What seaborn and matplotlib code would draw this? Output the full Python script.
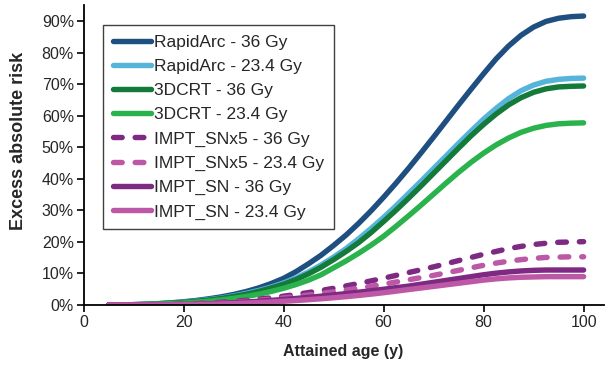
import matplotlib
matplotlib.use("Agg")
import matplotlib.pyplot as plt
import seaborn as sns
import pandas as pd
from matplotlib.ticker import PercentFormatter

sns.set_theme(style="white")
plt.rcParams["font.family"] = ["Liberation Sans", "DejaVu Sans"]

# attained age (years), every 2.5 y
age = [5, 7.5, 10, 12.5, 15, 17.5, 20, 22.5, 25, 27.5, 30, 32.5, 35, 37.5, 40, 42.5, 45, 47.5, 50,
       52.5, 55, 57.5, 60, 62.5, 65, 67.5, 70, 72.5, 75, 77.5, 80, 82.5, 85, 87.5, 90, 92.5, 95, 97.5, 100]

# excess absolute risk
rapidarc_36 = [0.0, 0.0004, 0.0012, 0.0025, 0.0044, 0.0069, 0.0102, 0.0143, 0.0195, 0.0257, 0.0334,
               0.0427, 0.0541, 0.068, 0.0846, 0.106, 0.131, 0.158, 0.189, 0.222, 0.259, 0.299, 0.342,
               0.387, 0.434, 0.483, 0.533, 0.584, 0.635, 0.685, 0.734, 0.781, 0.822, 0.856, 0.882,
               0.9, 0.91, 0.915, 0.917]
rapidarc_234 = [0.0, 0.0003, 0.001, 0.0022, 0.004, 0.0063, 0.009, 0.0125, 0.017, 0.022, 0.029, 0.037,
                0.046, 0.057, 0.07, 0.086, 0.105, 0.127, 0.152, 0.179, 0.21, 0.243, 0.278, 0.315,
                0.354, 0.393, 0.433, 0.473, 0.513, 0.552, 0.59, 0.624, 0.655, 0.68, 0.698, 0.71,
                0.716, 0.719, 0.72]
crt_36 = [0.0, 0.0003, 0.001, 0.002, 0.0037, 0.0058, 0.0083, 0.0115, 0.0157, 0.0205, 0.027, 0.034,
          0.043, 0.054, 0.066, 0.081, 0.099, 0.12, 0.144, 0.17, 0.198, 0.23, 0.265, 0.301, 0.339,
          0.378, 0.418, 0.458, 0.498, 0.537, 0.573, 0.606, 0.635, 0.658, 0.675, 0.686, 0.692,
          0.694, 0.695]
crt_234 = [0.0, 0.0002, 0.0007, 0.0015, 0.0027, 0.0043, 0.0063, 0.0088, 0.012, 0.016, 0.021, 0.027,
           0.034, 0.043, 0.053, 0.065, 0.079, 0.096, 0.118, 0.14, 0.164, 0.19, 0.218, 0.25, 0.283,
           0.317, 0.352, 0.387, 0.421, 0.453, 0.482, 0.508, 0.53, 0.548, 0.561, 0.57, 0.575,
           0.577, 0.578]
snx5_36 = [0.0, 0.0001, 0.0002, 0.0004, 0.0008, 0.0015, 0.0026, 0.0041, 0.006, 0.0084, 0.0113,
           0.0147, 0.0186, 0.023, 0.028, 0.0335, 0.0395, 0.046, 0.053, 0.0605, 0.0683, 0.0765,
           0.085, 0.094, 0.103, 0.112, 0.121, 0.131, 0.141, 0.151, 0.161, 0.17, 0.179, 0.186,
           0.192, 0.196, 0.199, 0.2, 0.201]
snx5_234 = [0.0, 0.0, 0.0001, 0.0003, 0.0007, 0.0012, 0.002, 0.0031, 0.0046, 0.0065, 0.0089, 0.0117,
            0.0149, 0.0185, 0.0225, 0.0268, 0.0315, 0.0365, 0.0418, 0.0474, 0.0533, 0.0595, 0.066,
            0.073, 0.08, 0.087, 0.094, 0.102, 0.11, 0.118, 0.126, 0.133, 0.139, 0.144, 0.148,
            0.151, 0.152, 0.153, 0.153]
sn_36 = [0.0, 0.0, 0.0001, 0.0003, 0.0005, 0.0009, 0.0015, 0.0024, 0.0036, 0.0052, 0.0071, 0.0093,
         0.0118, 0.0146, 0.0176, 0.0208, 0.0243, 0.028, 0.032, 0.0362, 0.0406, 0.0452, 0.05, 0.055,
         0.06, 0.066, 0.072, 0.078, 0.084, 0.09, 0.096, 0.101, 0.105, 0.108, 0.11, 0.111, 0.111,
         0.111, 0.111]
sn_234 = [0.0, 0.0, 0.0001, 0.0001, 0.0003, 0.0005, 0.0009, 0.0015, 0.0023, 0.0033, 0.0045, 0.006,
          0.0077, 0.0096, 0.0118, 0.0142, 0.0169, 0.0198, 0.023, 0.0265, 0.0303, 0.0345, 0.039,
          0.044, 0.049, 0.054, 0.059, 0.064, 0.069, 0.074, 0.079, 0.083, 0.086, 0.088, 0.089,
          0.09, 0.09, 0.09, 0.09]

labels = ["RapidArc - 36 Gy", "RapidArc - 23.4 Gy", "3DCRT - 36 Gy", "3DCRT - 23.4 Gy",
          "IMPT_SNx5 - 36 Gy", "IMPT_SNx5 - 23.4 Gy", "IMPT_SN - 36 Gy", "IMPT_SN - 23.4 Gy"]
series = [rapidarc_36, rapidarc_234, crt_36, crt_234, snx5_36, snx5_234, sn_36, sn_234]
colors = ["#1F4E80", "#56B4DA", "#137A3A", "#2AB24C", "#7E2A82", "#BC58A6", "#7E2A82", "#BC58A6"]
dashed = [False, False, False, False, True, True, False, False]

df = pd.DataFrame({"Age": age})
for lab, vals in zip(labels, series):
    df[lab] = vals

fig = plt.figure(figsize=(6.05, 3.68), dpi=100)
ax = fig.add_axes([0.1382, 0.1712, 0.8595, 0.8152])

for lab, col, dsh in zip(labels, colors, dashed):
    ls = (0, (1.6, 2.4)) if dsh else "-"
    sns.lineplot(data=df, x="Age", y=lab, ax=ax, color=col, linewidth=3.9,
                 linestyle=ls, solid_capstyle="round", dash_capstyle="round",
                 solid_joinstyle="round", label=lab)

ax.set_xlim(0, 104)
ax.set_ylim(0, 0.952)
ax.set_xticks([0, 20, 40, 60, 80, 100])
ax.set_yticks([i / 10 for i in range(10)])
ax.yaxis.set_major_formatter(PercentFormatter(1.0, decimals=0))

for side in ["top", "right"]:
    ax.spines[side].set_visible(False)
for side in ["left", "bottom"]:
    ax.spines[side].set_color("black")
    ax.spines[side].set_linewidth(1.3)
ax.tick_params(axis="both", direction="out", length=5, width=1.2, color="black",
               labelsize=11.5, labelcolor="#262626", pad=2, left=True, bottom=True)

ax.set_xlabel("Attained age (y)", fontsize=11.5, fontweight="bold", color="#262626")
ax.set_ylabel("Excess absolute risk", fontsize=13, fontweight="bold", color="#262626")
ax.xaxis.set_label_coords(0.5, -0.13)
ax.yaxis.set_label_coords(-0.108, 0.547)
ax.grid(False)

leg = ax.legend(loc="upper left", bbox_to_anchor=(103 / 605, 1 - 25 / 368),
                bbox_transform=fig.transFigure, fontsize=12.5, frameon=True, fancybox=False,
                framealpha=1, edgecolor="#404040", handlelength=2.2, handletextpad=0.2,
                labelspacing=0.52, borderpad=0.55, borderaxespad=0)
leg.get_frame().set_linewidth(1.0)
for t in leg.get_texts():
    t.set_color("#262626")

fig.savefig("out.png", dpi=100)
